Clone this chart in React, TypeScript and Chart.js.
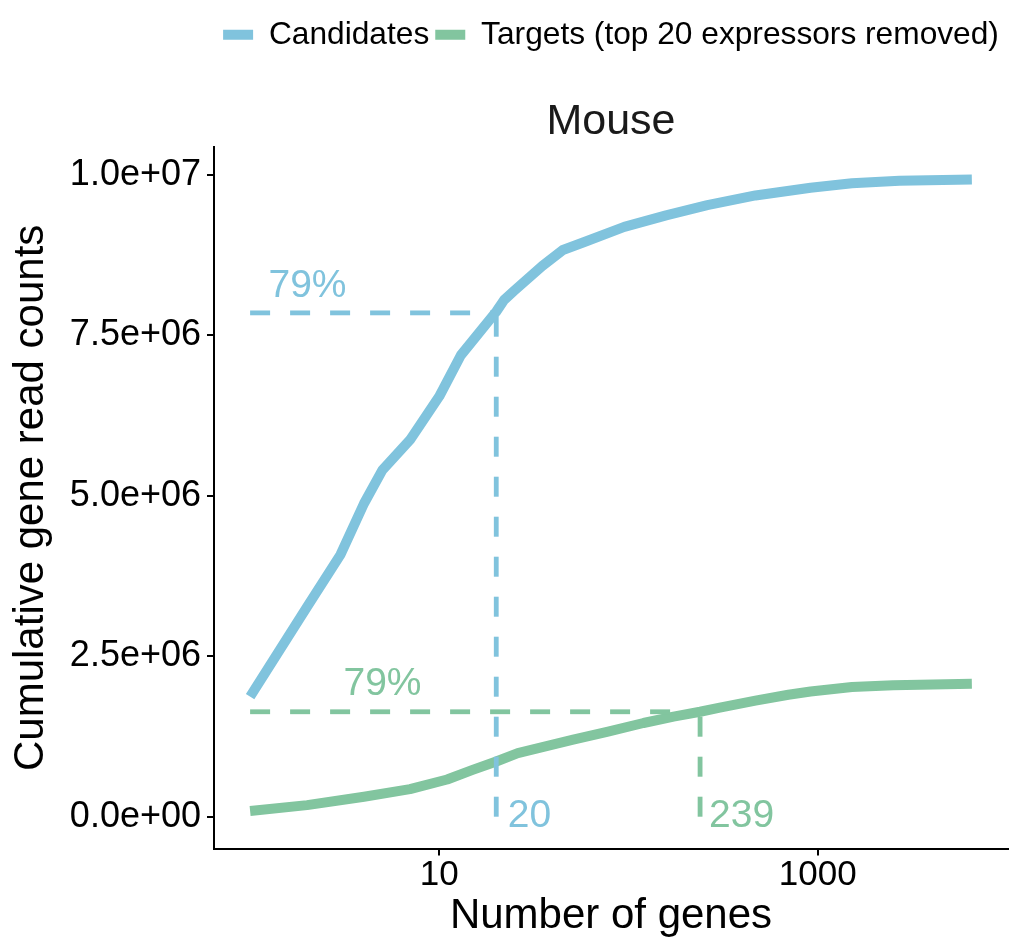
import React, { useRef, useEffect } from 'react';
import { Chart, registerables } from 'chart.js';

Chart.register(...registerables);

// Number of genes (rank) vs cumulative read counts
const candidateGenes = [1, 2, 3, 4, 5, 7, 10, 13, 20, 22, 25, 35, 45, 58, 95, 158, 261, 469, 917, 1517, 2706, 6530];
const candidateCounts = [1.87e6, 3.27e6, 4.08e6, 4.88e6, 5.4e6, 5.87e6, 6.55e6, 7.19e6, 7.87e6, 8.05e6, 8.2e6, 8.58e6, 8.83e6, 8.95e6, 9.19e6, 9.37e6, 9.53e6, 9.68e6, 9.8e6, 9.87e6, 9.91e6, 9.93e6];

const targetGenes = [1, 2, 4, 7, 11, 15, 20, 26, 51, 77, 120, 173, 239, 304, 469, 700, 917, 1517, 2506, 6530];
const targetCounts = [0.09e6, 0.18e6, 0.31e6, 0.43e6, 0.58e6, 0.73e6, 0.86e6, 0.99e6, 1.2e6, 1.32e6, 1.46e6, 1.56e6, 1.635e6, 1.7e6, 1.81e6, 1.9e6, 1.95e6, 2.02e6, 2.05e6, 2.07e6];

// 79% cut-offs
const candidateCut = { genes: 20, count: 7.85e6 };
const targetCut = { genes: 239, count: 1.635e6 };

const labelTexts = ['79%', '79%', '20', '239'];
const labelGenes = [2.01, 5.01, 30, 396];
const labelCounts = [8.27e6, 2.06e6, 0, 0];

const yTicks = [0, 2.5e6, 5e6, 7.5e6, 1e7];
const xTicks = [10, 1000];

const BLUE = '#80C3DD';
const GREEN = '#82C59F';
const FONT = '"Liberation Sans", Arial, Helvetica, sans-serif';

const fmtSci = (v: number) => {
    if (v === 0) return '0.0e+00';
    const e = Math.floor(Math.log10(v));
    const m = v / Math.pow(10, e);
    return `${m.toFixed(1)}e+${String(e).padStart(2, '0')}`;
};

const toPoints = (xs: number[], ys: number[]) => xs.map((x, i) => ({ x, y: ys[i] }));

const annotations = {
    id: 'cutLabels',
    afterDatasetsDraw(chart: any) {
        const { ctx, scales } = chart;
        ctx.save();
        ctx.font = `39px ${FONT}`;
        ctx.textAlign = 'center';
        ctx.textBaseline = 'middle';
        const colors = [BLUE, GREEN, BLUE, GREEN];
        labelTexts.forEach((t, i) => {
            ctx.fillStyle = colors[i];
            ctx.fillText(t, scales.x.getPixelForValue(labelGenes[i]), scales.y.getPixelForValue(labelCounts[i]));
        });
        ctx.restore();
    }
};

const App: React.FC = () => {
    const chartRef = useRef<HTMLCanvasElement>(null);
    const chartInstance = useRef<Chart | null>(null);

    useEffect(() => {
        if (chartInstance.current) {
            chartInstance.current.destroy();
        }
        const ctx = chartRef.current?.getContext('2d');
        if (!ctx) return;

        const dash = (color: string, pts: { x: number; y: number }[], order: number) => ({
            label: '',
            data: pts,
            borderColor: color,
            backgroundColor: color,
            borderWidth: 4.8,
            borderDash: [20, 20],
            borderCapStyle: 'butt' as const,
            pointRadius: 0,
            tension: 0,
            order
        });

        chartInstance.current = new Chart(ctx, {
            type: 'line',
            data: {
                datasets: [
                    {
                        label: 'Candidates',
                        data: toPoints(candidateGenes, candidateCounts),
                        borderColor: BLUE,
                        backgroundColor: BLUE,
                        borderWidth: 10,
                        borderCapStyle: 'butt',
                        borderJoinStyle: 'round',
                        pointRadius: 0,
                        tension: 0,
                        order: 5
                    },
                    {
                        label: 'Targets (top 20 expressors removed)',
                        data: toPoints(targetGenes, targetCounts),
                        borderColor: GREEN,
                        backgroundColor: GREEN,
                        borderWidth: 10,
                        borderCapStyle: 'butt',
                        borderJoinStyle: 'round',
                        pointRadius: 0,
                        tension: 0,
                        order: 4
                    },
                    dash(BLUE, [{ x: 1, y: candidateCut.count }, { x: candidateCut.genes, y: candidateCut.count }], 3),
                    dash(BLUE, [{ x: candidateCut.genes, y: 0 }, { x: candidateCut.genes, y: candidateCut.count }], 3),
                    dash(GREEN, [{ x: 1, y: targetCut.count }, { x: targetCut.genes, y: targetCut.count }], 2),
                    dash(GREEN, [{ x: targetCut.genes, y: 0 }, { x: targetCut.genes, y: targetCut.count }], 2)
                ]
            },
            options: {
                responsive: false,
                animation: false,
                layout: { padding: { top: 13, right: 13, bottom: 0, left: 0 } },
                plugins: {
                    tooltip: { enabled: false },
                    legend: {
                        position: 'top',
                        fullSize: false,
                        weight: 3000,
                        labels: {
                            font: { family: FONT, size: 31.7 },
                            color: '#000',
                            boxWidth: 30,
                            boxHeight: 10,
                            padding: 6,
                            generateLabels: (chart: any) =>
                                chart.data.datasets.slice(0, 2).map((ds: any, i: number) => ({
                                    text: ds.label,
                                    fillStyle: ds.borderColor,
                                    strokeStyle: ds.borderColor,
                                    lineWidth: 0,
                                    hidden: false,
                                    datasetIndex: i,
                                    fontColor: '#000'
                                }))
                        }
                    } as any,
                    title: {
                        display: true,
                        text: 'Mouse',
                        fullSize: false,
                        weight: 2000,
                        color: '#1a1a1a',
                        font: { family: FONT, size: 43, weight: 'normal', lineHeight: 1.1 },
                        padding: { top: 37.5, bottom: 1.6 }
                    } as any
                },
                scales: {
                    x: {
                        type: 'logarithmic',
                        min: 0.6444,
                        max: 10139,
                        bounds: 'data',
                        afterBuildTicks: (scale: any) => {
                            scale.ticks = xTicks.map(v => ({ value: v }));
                        },
                        afterFit: (scale: any) => {
                            scale.height = 93.4;
                        },
                        ticks: {
                            font: { family: FONT, size: 35, lineHeight: 1 },
                            color: '#000',
                            padding: 2,
                            maxRotation: 0,
                            callback: (v: any) => String(v)
                        },
                        grid: { display: true, drawOnChartArea: false, drawTicks: true, tickLength: 7, color: '#000', lineWidth: 2 },
                        border: { display: true, color: '#000', width: 2 },
                        title: {
                            display: true,
                            text: 'Number of genes',
                            color: '#000',
                            font: { family: FONT, size: 42 },
                            padding: { top: 0, bottom: 0 }
                        }
                    },
                    y: {
                        type: 'linear',
                        min: -0.497e6,
                        max: 10.433e6,
                        bounds: 'data',
                        afterBuildTicks: (scale: any) => {
                            scale.ticks = yTicks.map(v => ({ value: v }));
                        },
                        afterFit: (scale: any) => {
                            scale.width = 214;
                        },
                        ticks: {
                            font: { family: FONT, size: 36 },
                            color: '#000',
                            padding: 6,
                            callback: (v: any) => fmtSci(Number(v))
                        },
                        grid: { display: true, drawOnChartArea: false, drawTicks: true, tickLength: 7, color: '#000', lineWidth: 2 },
                        border: { display: true, color: '#000', width: 2 },
                        title: {
                            display: true,
                            text: 'Cumulative gene read counts',
                            color: '#000',
                            font: { family: FONT, size: 42 },
                            padding: { top: 6, bottom: 0 }
                        }
                    }
                }
            },
            plugins: [annotations]
        });

        return () => {
            if (chartInstance.current) {
                chartInstance.current.destroy();
                chartInstance.current = null;
            }
        };
    }, []);

    return (
        <div style={{ position: 'absolute', left: 0, top: 0, width: 1021, height: 942, background: '#fff' }}>
            <canvas ref={chartRef} width={1021} height={942} style={{ display: 'block' }} />
        </div>
    );
};

export default App;
